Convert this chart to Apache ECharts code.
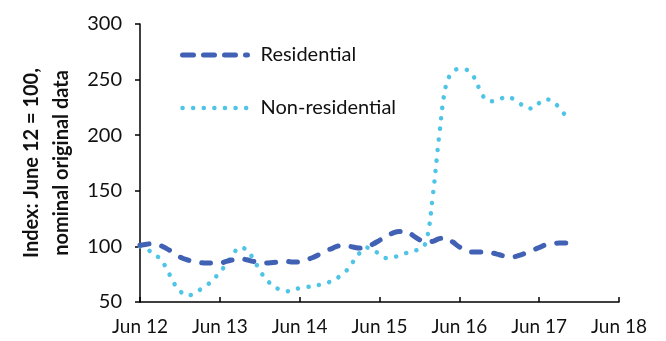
<!DOCTYPE html>
<html>
<head>
<meta charset="utf-8">
<script src="https://cdn.jsdelivr.net/npm/echarts@6/dist/echarts.min.js"></script>
<style>
  html, body { margin: 0; padding: 0; background: #fff; }
  #chart { width: 666px; height: 341px; }
</style>
</head>
<body>
<div id="chart"></div>
<script>
// months since Jun 12 (0 .. 64)
var months = [];
for (var i = 0; i <= 64; i++) months.push(i);

// tick labels, one per year
var tickLabels = ['Jun 12', 'Jun 13', 'Jun 14', 'Jun 15', 'Jun 16', 'Jun 17', 'Jun 18'];

// Residential index (monthly)
var residential = [
  101, 102, 102.5, 101, 98, 94.5, 90.5, 88, 86.5, 85.5,
  85, 85, 85, 86.5, 88, 89, 88, 86.5, 85.5, 85,
  85.5, 86, 86.5, 86, 86, 88, 90, 93, 96, 98.5,
  100.5, 100.5, 99.5, 98.5, 99, 102, 105.5, 109, 112, 113.5,
  113.5, 110, 106, 104, 104.5, 107, 107.5, 104, 99.5, 96.5,
  95, 95, 95, 94, 92.5, 91, 90.5, 92, 94, 96.5,
  99, 101.5, 102.5, 103, 103
];

// Non-residential index (monthly)
var nonResidential = [
  100, 98, 93, 89, 80, 68, 60, 56, 57, 61,
  65, 70, 77, 84, 93, 99, 97, 89, 78.5, 70,
  65, 61, 59.6, 61, 62.5, 63.5, 64.3, 65.5, 67, 69.5,
  73, 78, 86, 94, 99, 97, 93, 89.5, 90, 92,
  94, 96, 97.5, 104, 145, 201, 245, 257, 259.5, 259,
  254, 242, 232, 230.5, 232, 234.5, 233, 229, 225, 224,
  229, 232.5, 230, 225, 217
];

var resColor = '#4161B4';
var nonColor = '#4EC4E6';

var chart = echarts.init(document.getElementById('chart'));

function pairs(vals) {
  return vals.map(function (v, i) { return [months[i], v]; });
}

var option = {
  animation: false,
  textStyle: { fontFamily: 'Lato' },
  grid: { left: 140, right: 47, top: 24, bottom: 39, outerBoundsMode: 'none' },
  legend: {
    orient: 'vertical',
    left: 175,
    top: 40,
    itemWidth: 65,
    itemHeight: 14,
    itemGap: 33,
    itemStyle: { opacity: 0 },
    textStyle: { fontSize: 20, color: '#111', padding: [0, 0, 0, 8] },
    data: [
      { name: 'Residential', lineStyle: { color: resColor, width: 5, type: [11, 10], cap: 'round' } },
      { name: 'Non-residential', lineStyle: { color: nonColor, width: 4.5, type: [0.1, 10.5], cap: 'round' } }
    ]
  },
  xAxis: {
    type: 'value',
    min: 0,
    max: 72,
    interval: 12,
    splitLine: { show: false },
    axisLine: { lineStyle: { color: '#000', width: 1.5 } },
    axisTick: { inside: true, length: 5, lineStyle: { color: '#000', width: 1.5 } },
    axisLabel: {
      fontSize: 19,
      color: '#111',
      margin: 15,
      formatter: function (v) { return tickLabels[v / 12]; }
    }
  },
  yAxis: {
    type: 'value',
    min: 50,
    max: 300,
    interval: 50,
    name: 'Index: June 12 = 100,\nnominal original data',
    nameLocation: 'middle',
    nameGap: 62,
    nameTextStyle: { fontSize: 20, fontWeight: 'bold', color: '#111', lineHeight: 30 },
    splitLine: { show: false },
    axisLine: { show: true, lineStyle: { color: '#000', width: 1.5 } },
    axisTick: { show: true, length: 5, lineStyle: { color: '#000', width: 1.5 } },
    axisLabel: { fontSize: 20, color: '#111', margin: 18 }
  },
  series: [
    {
      name: 'Residential',
      type: 'line',
      smooth: 0.4,
      symbol: 'none',
      data: pairs(residential),
      itemStyle: { color: resColor },
      lineStyle: { color: resColor, width: 5, type: [9, 13], cap: 'round' },
      z: 3
    },
    {
      name: 'Non-residential',
      type: 'line',
      smooth: 0.4,
      symbol: 'none',
      data: pairs(nonResidential),
      itemStyle: { color: nonColor },
      lineStyle: { color: nonColor, width: 4.5, type: [0.1, 10.5], cap: 'round' },
      z: 2
    }
  ]
};

chart.setOption(option);
</script>
</body>
</html>
